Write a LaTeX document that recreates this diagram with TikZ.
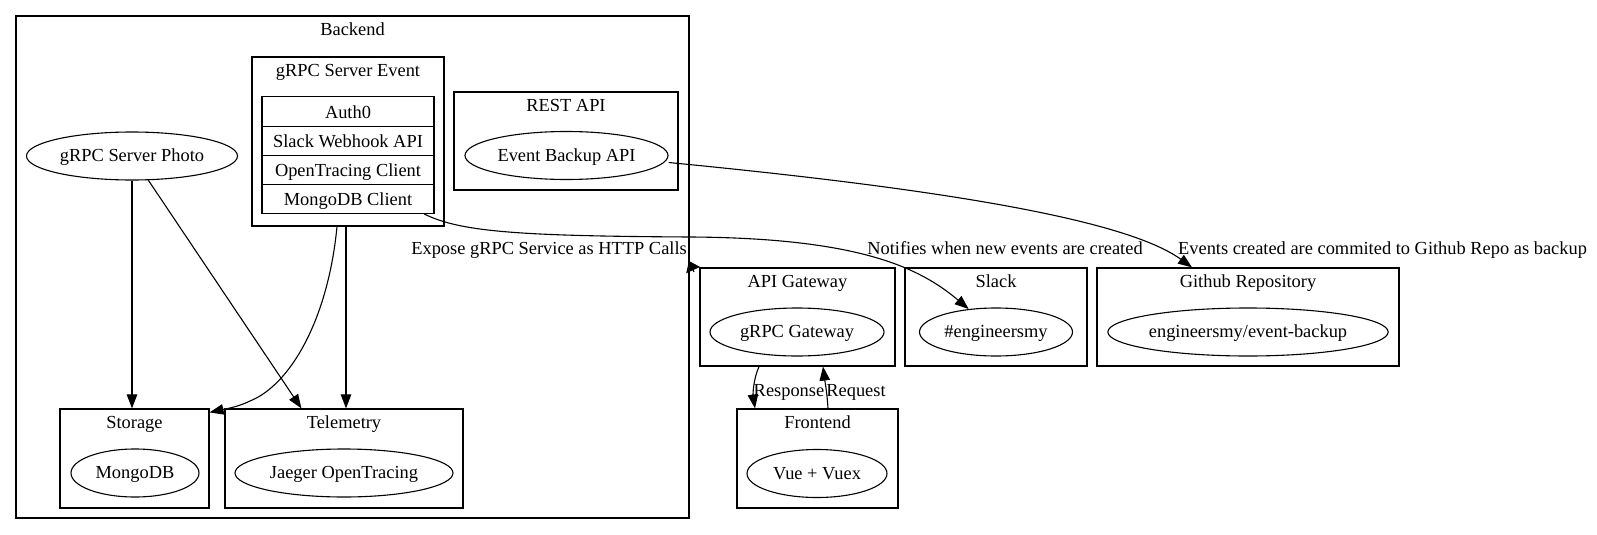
\documentclass[tikz,border=0pt]{standalone}
\usepackage{fontspec}
\setmainfont{Liberation Serif}
\usetikzlibrary{arrows.meta,shapes.geometric,positioning}
\tikzset{
  cluster/.style={draw, line width=1.2pt, inner sep=0pt},
  clabel/.style={anchor=base, inner sep=0pt},
  svc/.style={draw, ellipse, line width=1.1pt, inner sep=0pt, minimum height=48pt, text height=13pt, text depth=2pt},
  recrow/.style={draw, line width=1.1pt, inner sep=0pt, outer sep=0pt, minimum width=172pt, minimum height=29.25pt, text height=13pt, text depth=0pt},
  link/.style={line width=1.1pt, -{Triangle[length=14pt,width=10.5pt]}},
  elabel/.style={anchor=base, inner sep=0pt}
}
\begin{document}
\begin{tikzpicture}[x=1pt, y=-1pt, font=\fontsize{18.4pt}{22pt}\selectfont]
    \useasboundingbox (0,0) rectangle (1597,535);
    % clusters
    \foreach \name/\cx/\cy/\w/\h/\title in {backend/352.5/267/673/502/Backend, event/348/141.5/192/169/gRPC Server Event, rest/566/141/224/98/REST API, storage/134.5/458.5/149/99/Storage, telemetry/344/458.5/238/99/Telemetry, apigw/797.5/317/195/98/API Gateway, slack/996/317/182/98/Slack, github/1248/317/302/98/Github Repository, frontend/817.5/458.5/161/99/Frontend} {
      \node[cluster, minimum width=\w pt, minimum height=\h pt] (\name) at (\cx,\cy) {};
      \node[clabel] (\name-title) at ([yshift=-20.5pt]\name.north) {\title};
    }
    % services
    \foreach \name/\cx/\cy/\w/\txt in {photo/132/156/211/gRPC Server Photo, backupapi/566.5/155.5/203/Event Backup API, mongodb/135/473/128/MongoDB, jaeger/344/473/218/Jaeger OpenTracing, grpcgw/797/332/174/gRPC Gateway, channel/996/332/153/\#engineersmy, repo/1248/332/280/{engineersmy/event-backup}, vue/817/473.5/140/Vue + Vuex} {
      \node[svc, minimum width=\w pt] (\name) at (\cx,\cy) {\txt};
    }
    % record
    \node[recrow] (auth) at (348,111.5) {Auth0};
    \node[recrow, below=0pt of auth] (slackhook) {Slack Webhook API};
    \node[recrow, below=0pt of slackhook] (otclient) {OpenTracing Client};
    \node[recrow, below=0pt of otclient] (mongoclient) {MongoDB Client};
    % edges
    \draw[link] (photo.south) -- (photo.south |- storage.north);
    \draw[link] (photo.-56) -- ([xshift=77pt]telemetry.north west);
    \draw[link] ([xshift=-11pt]event.south) .. controls (328,320) and (290,385) .. (250,401) .. controls (238,407) and (225,409) .. ([yshift=-4pt]storage.north east);
    \draw[link] ([xshift=-2pt]event.south) -- ([xshift=-2pt]event.south |- telemetry.north);
    \draw[link] ([xshift=-10pt]mongoclient.south east) .. controls (460,232) and (520,236) .. (690,237) .. controls (860,238) and (920,268) .. (channel.140);
    \draw[link] ([yshift=-7pt]backupapi.east) .. controls (900,185) and (1120,215) .. ([xshift=-56pt]github.north);
    \coordinate (exposefoot) at (694,272);
    \coordinate (exposetip) at (689,261);
    \draw[link, -{Triangle[length=10pt,width=15pt]}] (exposefoot) -- (exposetip);
    \draw[link] ([xshift=-38.5pt]apigw.south) .. controls (753,380) and (753,395) .. ([xshift=-62.5pt]frontend.north);
    \draw[link] ([xshift=10.5pt]frontend.north) .. controls (827,392) and (825,382) .. ([xshift=25.5pt]apigw.south);
    % edge labels
    \node[elabel, anchor=base east] (exposelbl) at (687,254) {Expose gRPC Service as HTTP Calls};
    \node[elabel] (notifylbl) at (1005,254) {Notifies when new events are created};
    \node[elabel] (commitlbl) at (1382.5,254) {Events created are commited to Github Repo as backup};
    \node[elabel] (responselbl) at (789,396) {Response};
    \node[elabel] (requestlbl) at (856,396) {Request};
\end{tikzpicture}
\end{document}
